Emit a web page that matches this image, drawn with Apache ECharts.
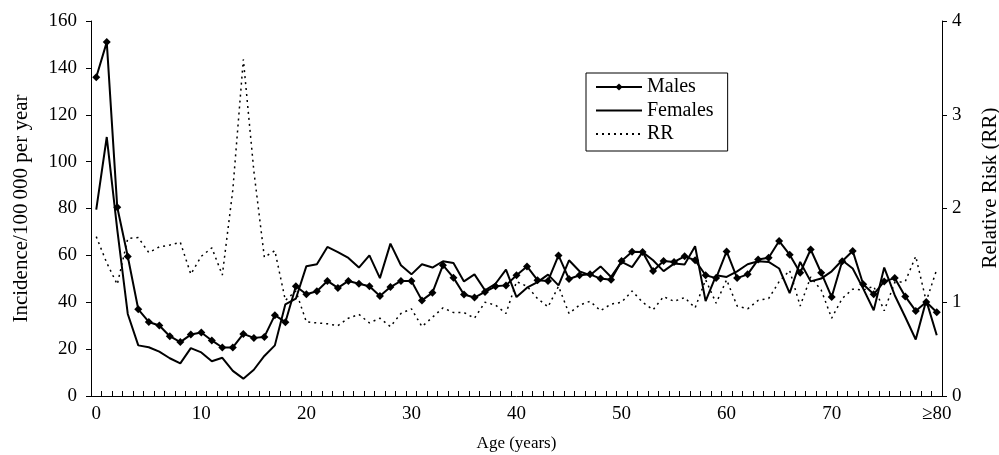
<!DOCTYPE html>
<html>
<head>
<meta charset="utf-8">
<script src="https://cdn.jsdelivr.net/npm/echarts@6/dist/echarts.min.js"></script>
<style>
html,body{margin:0;padding:0;background:#fff;}
#chart{width:999px;height:455px;}
</style>
</head>
<body>
<div id="chart"></div>
<script>
const ages = ['0','1','2','3','4','5','6','7','8','9','10','11','12','13','14','15','16','17','18','19',
'20','21','22','23','24','25','26','27','28','29','30','31','32','33','34','35','36','37','38','39',
'40','41','42','43','44','45','46','47','48','49','50','51','52','53','54','55','56','57','58','59',
'60','61','62','63','64','65','66','67','68','69','70','71','72','73','74','75','76','77','78','79','\u226580'];

const males = [136,151,80.5,59.5,37,31.6,30.1,25.5,23,26.2,27.1,23.7,20.7,20.7,26.5,24.8,25.2,34.5,31.5,46.8,
43.4,44.7,49.1,46.1,49.1,47.9,46.8,42.7,46.5,49.1,49.1,40.8,44.1,55.8,50.5,43.3,42,44.4,46.8,47.2,
51.5,55.3,49.4,49.1,60,49.9,51.5,51.9,50.1,49.6,57.6,61.5,61.4,53.3,57.6,57.2,59.6,57.9,51.5,50.3,
61.7,50.3,51.9,58.2,59,66.1,60.3,52.6,62.5,52.6,42.2,57.5,61.9,47.7,43.4,48.9,50.3,42.5,36.3,40.1,35.7];

const females = [79.5,110.5,71,35,21.6,20.8,18.9,16.1,13.9,20.4,18.6,14.8,16.3,10.7,7.4,11.2,17.1,21.6,39.1,41.5,
55.4,56.2,63.6,61.4,58.9,54.8,60,50.3,65,55.8,51.9,56.2,54.8,57.5,56.7,48.9,51.9,45.1,47.9,53.9,
42.2,46.2,48.6,51.8,47.2,57.9,53.2,51.5,55.3,50.8,57.2,55,61.4,57.9,53.3,56.5,56.1,63.9,40.5,51.5,
50.8,53.2,56.2,57.5,57.2,54.4,43.9,57.2,48.9,50.1,53.2,57.9,54.4,45.8,36.6,54.8,43,33.7,24.1,40.8,25.9];

const rr = [1.70,1.42,1.19,1.68,1.69,1.53,1.59,1.61,1.64,1.30,1.49,1.58,1.29,2.2,3.59,2.4,1.48,1.55,1.02,1.12,
0.79,0.78,0.77,0.75,0.83,0.87,0.78,0.83,0.74,0.88,0.93,0.74,0.84,0.94,0.89,0.89,0.83,1.00,0.97,0.88,
1.22,1.17,1.04,0.95,1.17,0.88,0.97,1.01,0.91,0.98,1.00,1.12,1.00,0.92,1.06,1.01,1.05,0.94,1.24,0.99,
1.24,0.96,0.93,1.02,1.04,1.22,1.34,0.96,1.27,1.13,0.83,1.04,1.14,1.13,1.17,0.91,1.21,1.22,1.49,1.01,1.35];

const leftTicks = {min:0, max:160, interval:20};
const rightTicks = {min:0, max:4, interval:1};

const FONT = 'Liberation Serif';
const chart = echarts.init(document.getElementById('chart'), null, {renderer:'canvas'});
chart.setOption({
  animation:false,
  backgroundColor:'#fff',
  textStyle:{fontFamily:FONT, color:'#000'},
  grid:{left:91, right:57, top:21, bottom:59, containLabel:false, outerBoundsMode:'none'},
  legend:{
    orient:'vertical', left:586, top:73,
    padding:[4,14,7,9],
    itemWidth:46, itemHeight:9, itemGap:3.5,
    borderColor:'#000', borderWidth:1, backgroundColor:'#fff', borderRadius:0,
    textStyle:{fontFamily:FONT, fontSize:20, color:'#000'},
    data:[
      {name:'Males'},
      {name:'Females', itemStyle:{opacity:0}},
      {name:'RR', itemStyle:{opacity:0}}
    ]
  },
  xAxis:{
    type:'category', data:ages, boundaryGap:true,
    name:'Age (years)', nameLocation:'middle', nameGap:39,
    nameTextStyle:{fontFamily:FONT, fontSize:17, color:'#000'},
    axisLine:{lineStyle:{color:'#000', width:1}},
    axisTick:{show:true, inside:true, length:5, interval:0, lineStyle:{color:'#000'}},
    axisLabel:{interval:9, fontFamily:FONT, fontSize:19, color:'#000', margin:9},
    splitLine:{show:false}
  },
  yAxis:[{
    type:'value', min:leftTicks.min, max:leftTicks.max, interval:leftTicks.interval,
    name:'Incidence/100\u2009000 per year', nameLocation:'middle', nameGap:59, nameRotate:90,
    nameTextStyle:{fontFamily:FONT, fontSize:21, color:'#000'},
    axisLine:{show:true, lineStyle:{color:'#000', width:1}},
    axisTick:{show:true, length:5, lineStyle:{color:'#000'}},
    axisLabel:{fontFamily:FONT, fontSize:19, color:'#000', margin:14},
    splitLine:{show:false}
  },{
    type:'value', position:'right', min:rightTicks.min, max:rightTicks.max, interval:rightTicks.interval,
    axisLine:{show:true, lineStyle:{color:'#000', width:1}},
    axisTick:{show:true, length:5, lineStyle:{color:'#000'}},
    axisLabel:{fontFamily:FONT, fontSize:19, color:'#000', margin:10},
    splitLine:{show:false}
  }],
  graphic:[{
    type:'text', x:990, y:188, rotation:Math.PI/2,
    style:{text:'Relative Risk (RR)', fontFamily:FONT, fontSize:21, fill:'#000', textAlign:'center', textVerticalAlign:'middle'}
  }],
  series:[{
    name:'Males', type:'line', data:males,
    symbol:'diamond', symbolSize:8, showSymbol:true, showAllSymbol:true,
    itemStyle:{color:'#000'}, lineStyle:{color:'#000', width:2}
  },{
    name:'Females', type:'line', data:females,
    symbol:'none', itemStyle:{color:'#000'}, lineStyle:{color:'#000', width:2}
  },{
    name:'RR', type:'line', data:rr, yAxisIndex:1,
    symbol:'none', itemStyle:{color:'#000'}, lineStyle:{color:'#000', width:1.5, type:[2,4]}
  }]
});
</script>
</body>
</html>
